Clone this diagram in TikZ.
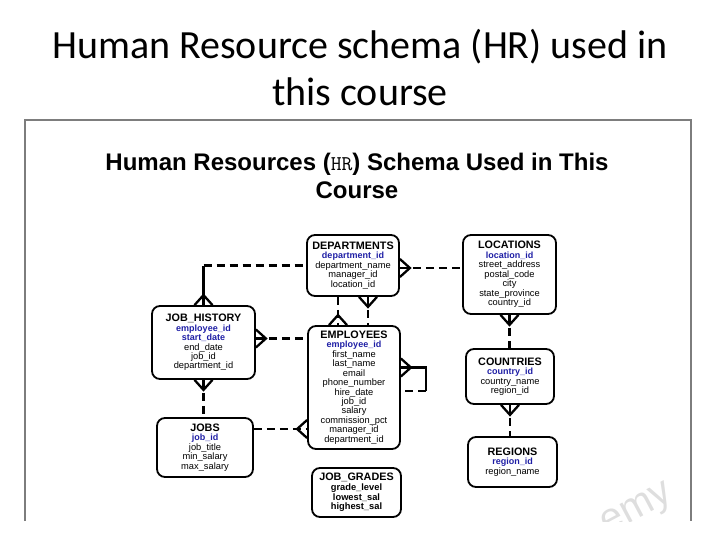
\documentclass[tikz,border=0pt]{standalone}
\usepackage{fontspec}
\setmainfont{Liberation Sans}
\newfontfamily\slidefont{Carlito}
\usetikzlibrary{calc}

\definecolor{keyblue}{RGB}{30,30,165}
\definecolor{framegray}{RGB}{125,125,125}
\definecolor{markgray}{RGB}{222,222,222}

\newcommand{\tbl}[1]{{\bfseries\fontsize{10.8}{11}\selectfont #1}}
\newcommand{\pk}[1]{{\color{keyblue}\bfseries\fontsize{9}{9.45}\selectfont #1}}

\tikzset{
  entity/.style={draw, line width=1.8pt, rounded corners=8pt, align=center, inner sep=0pt, font=\fontsize{9.3}{9.45}\selectfont},
  link/.style={line width=2.3pt},
  rel/.style={link, dash pattern=on 8pt off 5pt},
  crowfoot/.pic={\draw[link] (-9,0) -- (0,10) -- (9,0);}
}

\begin{document}
\begin{tikzpicture}[x=1pt,y=1pt,yscale=-1,xscale=1]
\useasboundingbox (0,0) rectangle (720,540);

% Text Node
\node[font=\slidefont\fontsize{40}{47}\selectfont, align=center] (title) at (360,68) {Human Resource schema (HR) used in\\this course};

%Shape: Rectangle
\draw[framegray, line width=1.2pt] (25,521) -- (25,120) -- (691,120) -- (691,521);

% watermark
\begin{scope}
\clip (25,120) rectangle (691,521);
\node[markgray, font=\fontsize{40}{40}\selectfont, rotate=28] (wmark) at (638,511) {emy};
\end{scope}

% Text Node
\node[font=\bfseries\fontsize{24}{28}\selectfont, align=center] (subtitle) at (357,176) {Human Resources ({\ttfamily\mdseries\fontsize{21}{28}\selectfont HR}) Schema Used in This\\Course};

%Shape: Tables
\node[entity, minimum width=92pt, minimum height=61pt] (dept) at (353,265.5) {\tbl{DEPARTMENTS}\\ \pk{department\_id}\\ department\_name\\ manager\_id\\ location\_id};
\node[entity, minimum width=93pt, minimum height=79pt] (loc) at (509.5,274.5) {\tbl{LOCATIONS}\\ \pk{location\_id}\\ street\_address\\ postal\_code\\ city\\ state\_province\\ country\_id};
\node[entity, minimum width=88pt, minimum height=55pt] (ctry) at (510,376.5) {\tbl{COUNTRIES}\\ \pk{country\_id}\\ country\_name\\ region\_id};
\node[entity, minimum width=89pt, minimum height=50pt] (reg) at (512.5,462) {\tbl{REGIONS}\\ \pk{region\_id}\\ region\_name};
\node[entity, minimum width=103pt, minimum height=73pt] (jh) at (203.5,342.5) {\tbl{JOB\_HISTORY}\\ \pk{employee\_id}\\ \pk{start\_date}\\ end\_date\\ job\_id\\ department\_id};
\node[entity, minimum width=92pt, minimum height=123pt] (emp) at (354,387.5) {\tbl{EMPLOYEES}\\ \pk{employee\_id}\\ first\_name\\ last\_name\\ email\\ phone\_number\\ hire\_date\\ job\_id\\ salary\\ commission\_pct\\ manager\_id\\ department\_id};
\node[entity, minimum width=96pt, minimum height=59pt] (jobs) at (205,447.5) {\tbl{JOBS}\\ \pk{job\_id}\\ job\_title\\ min\_salary\\ max\_salary};
\node[entity, minimum width=89pt, minimum height=49pt, font=\bfseries\fontsize{9.3}{9.6}\selectfont] (grades) at (356.5,492.5) {\tbl{JOB\_GRADES}\\ grade\_level\\ lowest\_sal\\ highest\_sal};

%Straight Lines: job_history - departments
\draw[link] (jh.north) -- (jh.north |- dept.west);
\draw[rel] (jh.north |- dept.west) -- (dept.west);
\pic at (jh.north) {crowfoot};

%Straight Lines: departments - locations
\coordinate (dlo) at ($(dept.east)+(0,2.5)$);
\draw[rel] (dlo) -- (dlo -| loc.west);
\pic[rotate=-90] at (dlo) {crowfoot};

%Straight Lines: departments - employees
\coordinate (dl) at ($(dept.south)+(-15,0)$);
\coordinate (dr) at ($(dept.south)+(15,0)$);
\draw[rel] (dl) -- (dl |- emp.north);
\pic at (dl |- emp.north) {crowfoot};
\draw[rel] (dr) -- (dr |- emp.north);
\pic[rotate=180] at (dr) {crowfoot};

%Straight Lines: job_history - employees
\coordinate (jhe) at ($(jh.east)+(0,-4)$);
\draw[rel] (jhe) -- (jhe -| emp.west);
\pic[rotate=-90] at (jhe) {crowfoot};

%Straight Lines: employees - manager
\coordinate (es1) at ($(emp.east)+(0,-20)$);
\coordinate (es2) at ($(emp.east)+(0,3.5)$);
\draw[link] (es1) -| ($(es2)+(25,0)$);
\draw[rel] ($(es2)+(25,0)$) -- (es2);
\pic[rotate=-90] at (es1) {crowfoot};

%Straight Lines: job_history - jobs
\draw[rel] (jh.south) -- (jh.south |- jobs.north);
\pic[rotate=180] at (jh.south) {crowfoot};

%Straight Lines: jobs - employees
\coordinate (je) at ($(jobs.east)+(0,-18.5)$);
\draw[rel] (je) -- (je -| emp.west);
\pic[rotate=90] at (je -| emp.west) {crowfoot};

%Straight Lines: locations - countries - regions
\draw[rel] (loc.south) -- (loc.south |- ctry.north);
\pic[rotate=180] at (loc.south) {crowfoot};
\draw[rel] (ctry.south) -- (ctry.south |- reg.north);
\pic[rotate=180] at (ctry.south) {crowfoot};

\end{tikzpicture}
\end{document}
